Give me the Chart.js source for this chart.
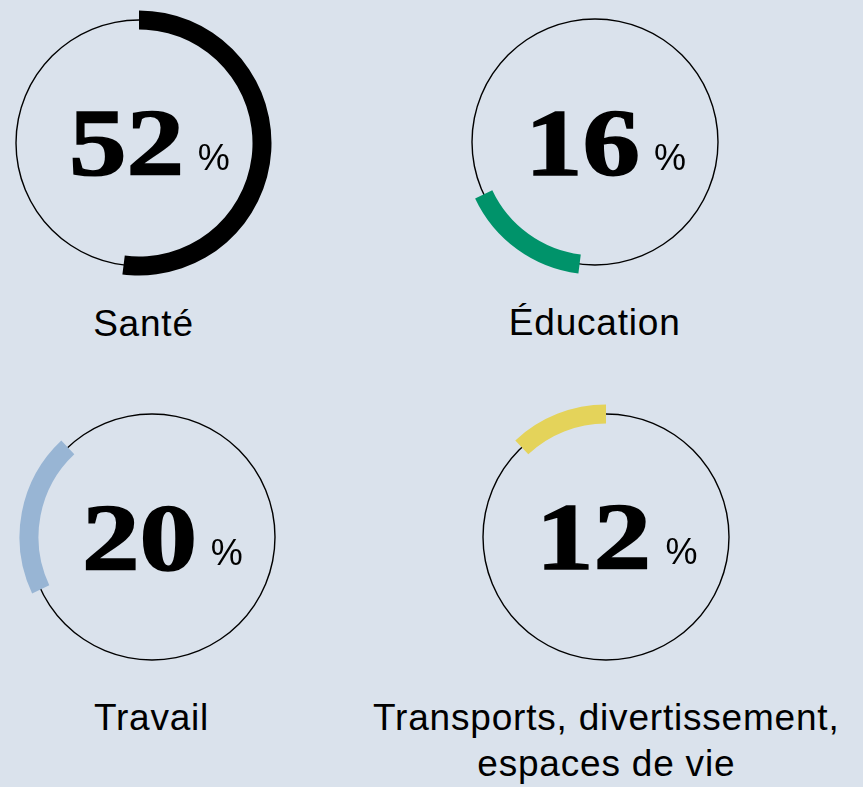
<!DOCTYPE html>
<html>
<head>
<meta charset="utf-8">
<script src="https://cdn.jsdelivr.net/npm/chart.js@4.4.1/dist/chart.umd.min.js"></script>
<style>
html, body { margin: 0; padding: 0; background: #dae2ec; }
#stage { position: relative; width: 863px; height: 787px; overflow: hidden; }
#stage canvas { position: absolute; }
.num { position: absolute; font-family: "Liberation Serif", serif; font-weight: bold; font-size: 96px;
       line-height: 1; transform: scaleX(1.2); transform-origin: 0 0; white-space: nowrap; color: #000;
       -webkit-text-stroke: 1.6px #000; }
.pct { position: absolute; font-family: "Liberation Sans", sans-serif; font-size: 36px; line-height: 1; color: #000; }
.label { position: absolute; width: 520px; text-align: center; font-family: "Liberation Sans", sans-serif;
         font-size: 37px; line-height: 46px; letter-spacing: 0.8px; color: #000; }
</style>
</head>
<body>
<div id="stage"></div>
<script>
// data
const categories = ['Santé', 'Éducation', 'Travail', 'Transports, divertissement, espaces de vie'];
const labelLines = [['Santé'], ['Éducation'], ['Travail'], ['Transports, divertissement,', 'espaces de vie']];
const shares = [52, 16, 20, 12];

// styles / layout
const arcColors = ['#000000', '#00936a', '#98b5d4', '#e4d35a'];
const centers = [[138.5, 142.5], [594.7, 142], [151.5, 537], [606.3, 536.5]];
const labelShift = [5, 0, 0, 0];
const RING_R = 123;
const ARC_W = 19;
const LINE_W = 1.4;
const SIZE = 270;

const stage = document.getElementById('stage');

function makeCanvas(cx, cy) {
    const c = document.createElement('canvas');
    c.width = SIZE;
    c.height = SIZE;
    c.style.width = SIZE + 'px';
    c.style.height = SIZE + 'px';
    c.style.left = (cx - SIZE / 2) + 'px';
    c.style.top = (cy - SIZE / 2) + 'px';
    stage.appendChild(c);
    return c;
}

// chart.js takes the cutout relative to the outer radius when given as %
function ringOptions(inner, outer) {
    return {
        radius: outer,
        cutout: (inner / outer * 100) + '%'
    };
}

const baseOptions = {
    responsive: false,
    animation: false,
    events: [],
    layout: { padding: 0 },
    elements: { arc: { borderWidth: 0, hoverOffset: 0, offset: 0, spacing: 0 } },
    plugins: { legend: { display: false }, tooltip: { enabled: false } }
};

let startShare = 0;
shares.forEach((v, i) => {
    const [cx, cy] = centers[i];
    const rotation = startShare * 3.6;
    startShare += v;

    // thin full circle
    new Chart(makeCanvas(cx, cy), {
        type: 'doughnut',
        data: {
            labels: [categories[i]],
            datasets: [{ data: [100], backgroundColor: ['#000000'] }]
        },
        options: Object.assign({}, baseOptions, ringOptions(RING_R - LINE_W / 2, RING_R + LINE_W / 2))
    });

    // thick arc for the share
    new Chart(makeCanvas(cx, cy), {
        type: 'doughnut',
        data: {
            labels: [categories[i], 'autres'],
            datasets: [{ data: [v, 100 - v], backgroundColor: [arcColors[i], 'rgba(0,0,0,0)'] }]
        },
        options: Object.assign({}, baseOptions, { rotation: rotation },
            ringOptions(RING_R - ARC_W / 2, RING_R + ARC_W / 2))
    });

    // big number
    const num = document.createElement('div');
    num.className = 'num';
    num.textContent = String(v);
    const numLeft = cx - 70;
    const numBase = cy + 33;
    num.style.left = numLeft + 'px';
    num.style.top = (numBase - 0.8375 * 96) + 'px';
    stage.appendChild(num);

    const pct = document.createElement('div');
    pct.className = 'pct';
    pct.textContent = '%';
    const w = num.getBoundingClientRect().width;
    pct.style.left = (numLeft + w + 14) + 'px';
    pct.style.top = (numBase - 5 - 0.8465 * 36) + 'px';
    stage.appendChild(pct);

    // category label
    const lab = document.createElement('div');
    lab.className = 'label';
    lab.innerHTML = labelLines[i].join('<br>');
    lab.style.left = (cx + labelShift[i] - 260) + 'px';
    lab.style.top = (cy + 194 - 35.8) + 'px';
    stage.appendChild(lab);
});
</script>
</body>
</html>
